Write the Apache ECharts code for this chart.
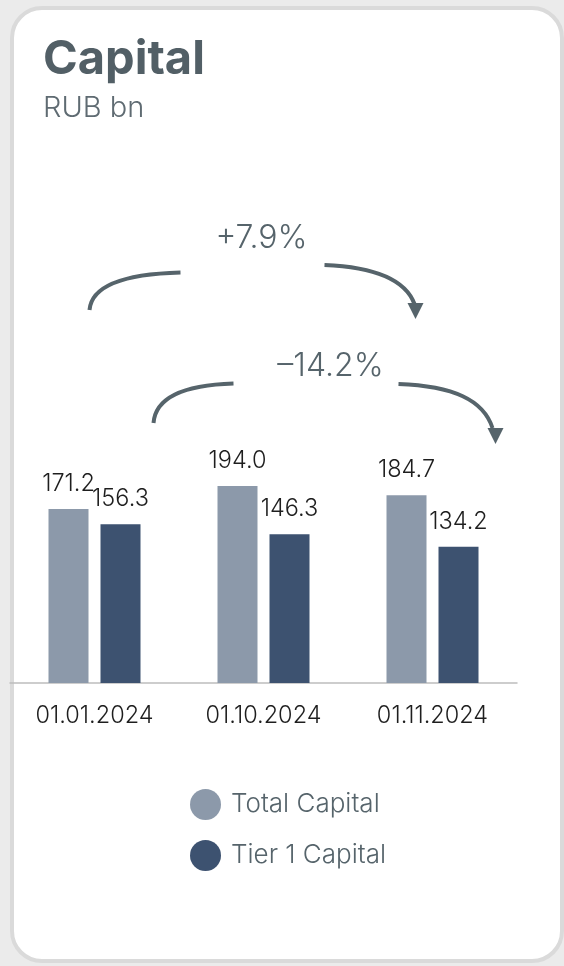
<!DOCTYPE html>
<html>
<head>
<meta charset="utf-8">
<script src="https://cdn.jsdelivr.net/npm/echarts@6/dist/echarts.min.js"></script>
<style>
  html, body { margin: 0; padding: 0; background: #ebebeb; width: 564px; height: 966px; overflow: hidden; }
  #card { position: absolute; left: 10px; top: 6px; width: 554px; height: 957px; box-sizing: border-box;
          border: 4px solid #dadada; border-radius: 32px; background: #ffffff; }
  #chart { position: absolute; left: 0; top: 0; width: 564px; height: 966px; }
</style>
</head>
<body>
<div id="card"></div>
<div id="chart"></div>
<script>
// Capital, RUB bn
const categories = ['01.01.2024', '01.10.2024', '01.11.2024'];
const totalCapital = [171.2, 194.0, 184.7];
const tier1Capital = [156.3, 146.3, 134.2];
const changeLabels = ['+7.9%', '–14.2%'];

const FONT = 'Inter, "Noto Sans", sans-serif';
const ink = '#56646b';

const chart = echarts.init(document.getElementById('chart'), null, { renderer: 'canvas' });

const valueLabel = {
  show: true, position: 'top', distance: 13,
  color: '#1e1e1e', fontFamily: FONT, fontSize: 23.5, fontWeight: 300,
  formatter: p => p.value.toFixed(1)
};

chart.setOption({
  backgroundColor: 'transparent',
  animation: false,
  title: {
    text: 'Capital', subtext: 'RUB bn', left: 38, top: 31, itemGap: 11,
    textStyle: { color: '#525f66', fontFamily: FONT, fontSize: 47, fontWeight: 700 },
    subtextStyle: { color: '#5f6b72', fontFamily: FONT, fontSize: 29, fontWeight: 300 }
  },
  legend: {
    orient: 'vertical', left: 185, top: 784, icon: 'circle',
    itemWidth: 31, itemHeight: 31, itemGap: 20,
    textStyle: { color: ink, fontFamily: FONT, fontSize: 26, fontWeight: 300, padding: [0, 0, 0, 5] },
    data: ['Total Capital', 'Tier 1 Capital']
  },
  grid: { left: 10, right: 47, top: 429, bottom: 283, containLabel: false },
  xAxis: {
    type: 'category', data: categories,
    axisLine: { lineStyle: { color: '#bdbdbd', width: 1.5 } },
    axisTick: { show: false },
    axisLabel: { color: '#1e1e1e', fontFamily: FONT, fontSize: 23.5, fontWeight: 300, margin: 21 }
  },
  yAxis: { type: 'value', min: 0, max: 250, show: false, splitLine: { show: false } },
  series: [
    { name: 'Total Capital', type: 'bar', data: totalCapital, barWidth: 40, barGap: '30%',
      itemStyle: { color: '#8c99aa' }, label: valueLabel },
    { name: 'Tier 1 Capital', type: 'bar', data: tier1Capital, barWidth: 40,
      itemStyle: { color: '#3d5270' }, label: valueLabel }
  ]
});

// Change arrows anchored to category centres on the x axis
function drawArrows() {
  const c = categories.map(cat => chart.convertToPixel({ xAxisIndex: 0 }, cat));
  const line = { stroke: ink, lineWidth: 4, fill: null, lineCap: 'butt' };
  const arrow = (x1, y1, x2, y2, cp) => ({
    type: 'bezierCurve',
    shape: { x1, y1, x2, y2, cpx1: cp[0], cpy1: cp[1], cpx2: cp[2], cpy2: cp[3] },
    style: line
  });
  const head = (tx, ty) => ({
    type: 'polygon',
    shape: { points: [[tx - 8, ty - 16], [tx + 8, ty - 16], [tx, ty]] },
    style: { fill: ink }
  });
  const label = (x, y, text) => ({
    type: 'text', x, y,
    style: { text, fill: ink, font: '300 32px ' + FONT, align: 'center', verticalAlign: 'middle' }
  });

  // Total Capital: first to last date
  const a0 = c[0] - 5, a1 = c[2] - 17;
  // Tier 1 Capital: first to last date
  const b0 = c[0] + 59, b1 = c[2] + 63;

  chart.setOption({
    graphic: [
      arrow(a0, 310, a0 + 91, 272.5, [a0 + 2, 286, a0 + 35, 274]),
      arrow(a0 + 235, 265, a1 - 1, 304, [a0 + 285, 267, a1 - 10, 280]),
      head(a1, 319),
      label((a0 + a1) / 2 + 9, 238, changeLabels[0]),

      arrow(b0, 423, b0 + 80, 383.5, [b0 + 2, 398, b0 + 30, 385]),
      arrow(b0 + 245, 384, b1 - 3, 428, [b0 + 300, 386, b1 - 12, 400]),
      head(b1, 444),
      label((b0 + b1) / 2 + 6, 366, changeLabels[1])
    ]
  });
}
drawArrows();
</script>
</body>
</html>
